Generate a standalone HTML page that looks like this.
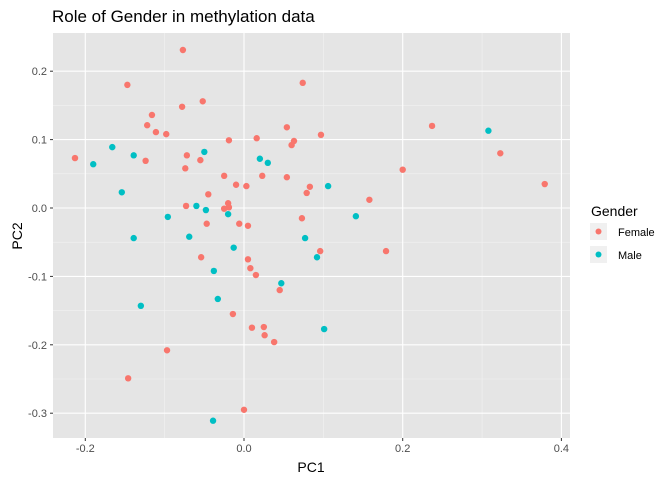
<!DOCTYPE html>
<html><head><meta charset="utf-8"><style>
body{margin:0;background:#fff;font-family:"Liberation Sans",sans-serif}
</style></head><body>
<svg id="chart" width="672" height="480" font-family="Liberation Sans, sans-serif">
<text x="52" y="22" font-size="17" fill="#000">Role of Gender in methylation data</text>
<rect x="53" y="33" width="517" height="405" fill="#e5e5e5"/>
<g id="grid"></g><g id="pts"></g><g id="axes"></g>
<text x="311" y="472" font-size="14" text-anchor="middle">PC1</text>
<text transform="translate(22,236) rotate(-90)" font-size="14" text-anchor="middle">PC2</text>
<g>
<text x="591" y="216" font-size="14">Gender</text>
<g><rect x="590" y="223" width="17" height="17" fill="#f0f0f0"/><circle cx="598.5" cy="231.5" r="3" fill="#F8766D"/><text x="618" y="236" font-size="11">Female</text></g>
<g><rect x="590" y="246" width="17" height="17" fill="#f0f0f0"/><circle cx="598.5" cy="254.5" r="3" fill="#00BFC4"/><text x="618" y="259" font-size="11">Male</text></g>
</g>
</svg>
<script>
const femaleX=[-0.077,-0.147,-0.052,-0.078,-0.116,-0.122,-0.111,-0.098,-0.019,-0.213,-0.072,-0.124,-0.055,-0.074,-0.025,-0.010,0.003,-0.045,-0.073,-0.020,-0.025,-0.019,-0.047,-0.006,0.005,0.074,0.054,0.097,0.016,0.063,0.060,0.023,0.054,0.083,0.079,0.073,-0.054,0.005,0.096,0.008,0.015,0.045,-0.014,0.010,0.025,0.026,0.038,-0.097,-0.146,0.000,0.237,0.323,0.379,0.200,0.158,0.179];
const femaleY=[0.231,0.180,0.156,0.148,0.136,0.121,0.111,0.108,0.099,0.073,0.077,0.069,0.070,0.058,0.047,0.034,0.032,0.020,0.003,0.007,-0.001,0.001,-0.023,-0.023,-0.026,0.183,0.118,0.107,0.102,0.098,0.092,0.047,0.045,0.031,0.022,-0.015,-0.072,-0.075,-0.063,-0.088,-0.098,-0.120,-0.155,-0.175,-0.174,-0.186,-0.196,-0.208,-0.249,-0.295,0.120,0.080,0.035,0.056,0.012,-0.063];
const maleX=[-0.166,-0.139,-0.050,-0.190,-0.154,-0.060,-0.048,-0.020,-0.096,0.020,0.030,0.106,-0.069,0.077,-0.013,0.092,-0.038,0.047,-0.033,0.101,-0.139,-0.130,-0.039,0.141,0.308];
const maleY=[0.089,0.077,0.082,0.064,0.023,0.003,-0.003,-0.009,-0.013,0.072,0.066,0.032,-0.042,-0.044,-0.058,-0.072,-0.092,-0.110,-0.133,-0.177,-0.044,-0.143,-0.311,-0.012,0.113];
const xTicks=[-0.2,0.0,0.2,0.4];
const xTickLabels=["-0.2","0.0","0.2","0.4"];
const yTicks=[-0.3,-0.2,-0.1,0.0,0.1,0.2];
const yTickLabels=["-0.3","-0.2","-0.1","0.0","0.1","0.2"];

const NS="http://www.w3.org/2000/svg";
const sx=v=>244+v*793.5, sy=v=>208-v*684;
function mk(tag,attrs,parent){const e=document.createElementNS(NS,tag);for(const k in attrs)e.setAttribute(k,attrs[k]);parent.appendChild(e);return e;}
const grid=document.getElementById('grid'),axes=document.getElementById('axes'),pts=document.getElementById('pts');
for(let i=0;i<xTicks.length-1;i++){const m=(xTicks[i]+xTicks[i+1])/2;const l=mk('line',{x1:sx(m),x2:sx(m),y1:33,y2:438,stroke:'#f2f2f2','stroke-width':0.6},grid);}
for(let i=0;i<yTicks.length-1;i++){const m=(yTicks[i]+yTicks[i+1])/2;const l=mk('line',{x1:53,x2:570,y1:sy(m),y2:sy(m),stroke:'#f2f2f2','stroke-width':0.6},grid);}
xTicks.forEach((t,i)=>{const x=sx(t);
const g=mk('line',{x1:x,x2:x,y1:33,y2:438,stroke:'#fff','stroke-width':1.1},grid);
const tk=mk('line',{x1:x,x2:x,y1:438,y2:441,stroke:'#333'},axes);
const tx=mk('text',{x:x,y:452,'font-size':11,'text-anchor':'middle',fill:'#4d4d4d'},axes);tx.textContent=xTickLabels[i];});
yTicks.forEach((t,i)=>{const y=sy(t);
const g=mk('line',{x1:53,x2:570,y1:y,y2:y,stroke:'#fff','stroke-width':1.1},grid);
const tk=mk('line',{x1:50,x2:53,y1:y,y2:y,stroke:'#333'},axes);
const tx=mk('text',{x:47,y:y+4,'font-size':11,'text-anchor':'end',fill:'#4d4d4d'},axes);tx.textContent=yTickLabels[i];});
femaleX.forEach((v,i)=>{const c=mk('circle',{cx:sx(v),cy:sy(femaleY[i]),r:3.2,fill:'#F8766D'},pts);});
maleX.forEach((v,i)=>{const c=mk('circle',{cx:sx(v),cy:sy(maleY[i]),r:3.2,fill:'#00BFC4'},pts);});
</script>
</body></html>
